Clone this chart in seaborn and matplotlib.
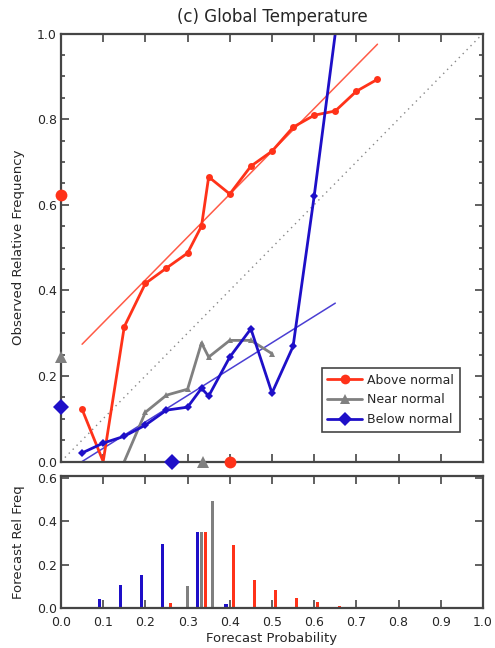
import matplotlib
matplotlib.use("Agg")
import matplotlib.pyplot as plt
import numpy as np
import pandas as pd
import seaborn as sns
from matplotlib.lines import Line2D
from matplotlib.ticker import MultipleLocator, FormatStrFormatter

# reliability curves: forecast probability -> observed relative frequency
above_x = [0.05, 0.10, 0.15, 0.20, 0.25, 0.30, 0.333, 0.35, 0.40, 0.45, 0.50, 0.55, 0.60, 0.65, 0.70, 0.75]
above_y = [0.122, 0.0, 0.315, 0.416, 0.452, 0.487, 0.550, 0.665, 0.625, 0.690, 0.725, 0.781, 0.809, 0.819, 0.865, 0.893]
near_x = [0.15, 0.20, 0.25, 0.30, 0.333, 0.35, 0.40, 0.45, 0.50]
near_y = [0.0, 0.115, 0.155, 0.169, 0.277, 0.244, 0.283, 0.283, 0.252]
below_x = [0.05, 0.10, 0.15, 0.20, 0.25, 0.30, 0.333, 0.35, 0.40, 0.45, 0.50, 0.55, 0.60, 0.65]
below_y = [0.020, 0.043, 0.059, 0.085, 0.120, 0.127, 0.171, 0.153, 0.244, 0.310, 0.160, 0.269, 0.620, 1.0]

# fitted lines, end points
above_fit_x = [0.05, 0.75]
above_fit_y = [0.274, 0.975]
below_fit_x = [0.05, 0.65]
below_fit_y = [0.0, 0.370]

# observed frequency (on the y axis) and mean forecast (on the x axis)
names = ["Above normal", "Near normal", "Below normal"]
obs_freq = [0.622, 0.244, 0.127]
mean_fcst = [0.400, 0.337, 0.263]

# forecast relative frequency histogram
hist_x = [0.05, 0.10, 0.15, 0.20, 0.25, 0.30, 0.333, 0.36, 0.40, 0.45, 0.50, 0.55, 0.60, 0.65, 0.70, 0.75]
hist_below = [0.004, 0.041, 0.106, 0.153, 0.295, 0.004, 0.353, 0.004, 0.020, 0.004, 0.0, 0.004, 0.0, 0.0, 0.0, 0.0]
hist_near = [0.0, 0.0, 0.0, 0.0, 0.004, 0.101, 0.353, 0.496, 0.0, 0.0, 0.0, 0.0, 0.0, 0.0, 0.0, 0.0]
hist_above = [0.0, 0.0, 0.004, 0.004, 0.023, 0.004, 0.353, 0.004, 0.289, 0.129, 0.083, 0.047, 0.026, 0.011, 0.004, 0.002]

red = "#ff3219"
gray = "#808080"
blue = "#1e0fc8"
axcol = "#454545"
colors = [red, gray, blue]
markers = ["o", "^", "D"]

sns.set_style("ticks")
plt.rcParams["font.family"] = ["DejaVu Sans"]

fig = plt.figure(figsize=(4.95, 6.48), dpi=100)
ax1 = fig.add_axes([0.1232, 0.2878, 0.8525, 0.6605])
ax2 = fig.add_axes([0.1232, 0.0617, 0.8525, 0.2037])

# top: reliability diagram
ax1.plot([0, 1], [0, 1], linestyle=(0, (1, 3)), color="#888888", lw=1, zorder=1)
sns.lineplot(x=above_fit_x, y=above_fit_y, color=red, lw=1.1, alpha=0.8, ax=ax1)
sns.lineplot(x=below_fit_x, y=below_fit_y, color=blue, lw=1.1, alpha=0.8, ax=ax1)
sns.lineplot(x=above_x, y=above_y, color=red, lw=2, marker="o", markersize=5,
             markeredgewidth=0, markevery=[i for i in range(len(above_x)) if i != 1], ax=ax1)
sns.lineplot(x=near_x, y=near_y, color=gray, lw=2, marker="^", markersize=5,
             markeredgewidth=0, markevery=list(range(1, len(near_x))), ax=ax1)
sns.lineplot(x=below_x, y=below_y, color=blue, lw=2, marker="D", markersize=4.5,
             markeredgewidth=0, markevery=list(range(len(below_x) - 1)), ax=ax1)

for v, f, c, m in zip(obs_freq, mean_fcst, colors, markers):
    ax1.plot([0], [v], marker=m, color=c, markersize=8.5, markeredgewidth=0, clip_on=False, zorder=5)
    ax1.plot([f], [0], marker=m, color=c, markersize=8.5, markeredgewidth=0, clip_on=False, zorder=5)

ax1.set_xlim(0, 1)
ax1.set_ylim(0, 1)
ax1.xaxis.set_major_locator(MultipleLocator(0.1))
ax1.yaxis.set_major_locator(MultipleLocator(0.2))
ax1.yaxis.set_minor_locator(MultipleLocator(0.05))
ax1.yaxis.set_major_formatter(FormatStrFormatter("%.1f"))
ax1.tick_params(labelbottom=False)
ax1.set_ylabel("Observed Relative Frequency", fontsize=9.5)
ax1.yaxis.set_label_coords(-0.085, 0.5)
ax1.set_title("(c) Global Temperature", fontsize=12, pad=8)

handles = [Line2D([], [], color=c, lw=2, marker=m, markersize=7, markeredgewidth=0)
           for c, m in zip(colors, markers)]
leg = ax1.legend(handles, names, loc="lower right", bbox_to_anchor=(0.945, 0.069),
                 fontsize=9, handlelength=2.8, handletextpad=0.4, labelspacing=0.55,
                 borderpad=0.45, borderaxespad=0, fancybox=False, framealpha=1,
                 edgecolor=axcol)
leg.get_frame().set_linewidth(1.2)

# bottom: forecast frequency histogram
hist = pd.DataFrame({
    "prob": hist_x * 3,
    "freq": hist_below + hist_near + hist_above,
    "cat": ["Below normal"] * len(hist_x) + ["Near normal"] * len(hist_x) + ["Above normal"] * len(hist_x),
})
sns.barplot(data=hist, x="prob", y="freq", hue="cat",
            hue_order=["Below normal", "Near normal", "Above normal"],
            palette=[blue, gray, red], native_scale=True, width=1.0, gap=0.2,
            errorbar=None, saturation=1, linewidth=0, legend=False, ax=ax2)
ax2.set_xlim(0, 1)
ax2.set_ylim(0, 0.61)
ax2.xaxis.set_major_locator(MultipleLocator(0.1))
ax2.yaxis.set_major_locator(MultipleLocator(0.2))
ax2.xaxis.set_major_formatter(FormatStrFormatter("%.1f"))
ax2.yaxis.set_major_formatter(FormatStrFormatter("%.1f"))
ax2.set_xlabel("Forecast Probability", fontsize=9.5, labelpad=2)
ax2.set_ylabel("Forecast Rel Freq", fontsize=9.5)
ax2.yaxis.set_label_coords(-0.085, 0.5)

for ax in (ax1, ax2):
    for s in ax.spines.values():
        s.set_color(axcol)
        s.set_linewidth(1.6)
    ax.tick_params(which="both", direction="in", top=True, right=True,
                   color=axcol, width=1.2, labelsize=9)
    ax.tick_params(which="major", length=5.5)
    ax.tick_params(which="minor", length=3)
    ax.tick_params(axis="y", pad=3)
ax2.tick_params(axis="x", pad=6)

fig.savefig("out.png", dpi=100)
